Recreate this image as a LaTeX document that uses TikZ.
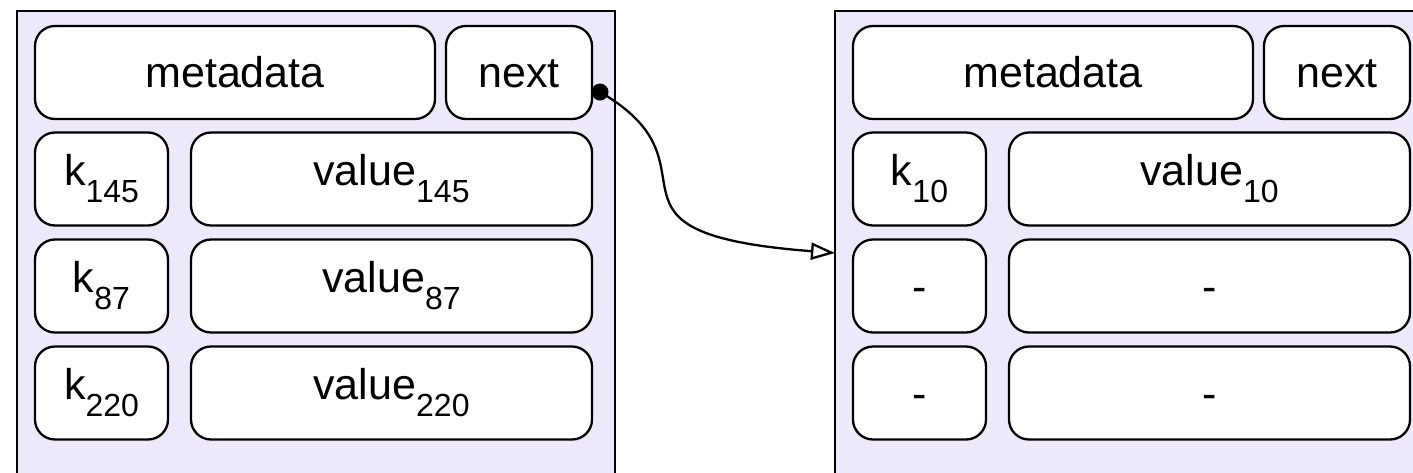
\documentclass[tikz,border=0pt]{standalone}
\usepackage{fontspec}
\setmainfont{Liberation Sans}
\usetikzlibrary{arrows.meta}
\definecolor{panelfill}{HTML}{EDE9FA}
% lowered, smaller index after a key or value name
\newcommand{\idx}[1]{\raisebox{-17pt}{\fontsize{32}{36}\selectfont #1}}

\begin{document}
\begin{tikzpicture}[x=1pt,y=-1pt,
  panel/.style={draw=black, fill=panelfill, line width=2.4pt},
  cell/.style={draw=black, fill=white, line width=2.3pt, rounded corners=20pt,
    inner sep=0pt, text height=31pt, font=\fontsize{43}{50}\selectfont,
    minimum height=93pt},
  keycell/.style={cell, minimum width=133pt},
  valcell/.style={cell, minimum width=401pt},
  metacell/.style={cell, minimum width=400pt},
  nextcell/.style={cell, minimum width=146pt},
  link/.style={line width=2.3pt, -{Triangle[open, length=24pt, width=17pt]}}
]
\useasboundingbox (0,0) rectangle (1413,472);
\clip (0,0) rectangle (1413,472);

% the two blocks
\draw[panel] (17,11) rectangle (615,540);
\draw[panel] (835,11) rectangle (1433,540);

% first block
\node[metacell] (lmeta) at (235,72.5) {metadata};
\node[nextcell] (lnext) at (519,72.5) {next};
\node[keycell] (lk1) at (101.5,179) {k\idx{145}};
\node[valcell] (lv1) at (391.5,179) {value\idx{145}};
\node[keycell] (lk2) at (101.5,286) {k\idx{87}};
\node[valcell] (lv2) at (391.5,286) {value\idx{87}};
\node[keycell] (lk3) at (101.5,393) {k\idx{220}};
\node[valcell] (lv3) at (391.5,393) {value\idx{220}};

% second block
\node[metacell] (rmeta) at (1053,72.5) {metadata};
\node[nextcell] (rnext) at (1337,72.5) {next};
\node[keycell] (rk1) at (919.5,179) {k\idx{10}};
\node[valcell] (rv1) at (1209.5,179) {value\idx{10}};
\node[keycell] (rk2) at (919.5,286) {-};
\node[valcell] (rv2) at (1209.5,286) {-};
\node[keycell] (rk3) at (919.5,393) {-};
\node[valcell] (rv3) at (1209.5,393) {-};

% next pointer from the first block to the second
\coordinate (src) at (600,92);
\coordinate (dst) at (835,253);
\draw[link] (src) .. controls +(130,75) and +(-260,-20) .. (dst);
\fill (src) circle[radius=8.5pt];
\end{tikzpicture}
\end{document}
